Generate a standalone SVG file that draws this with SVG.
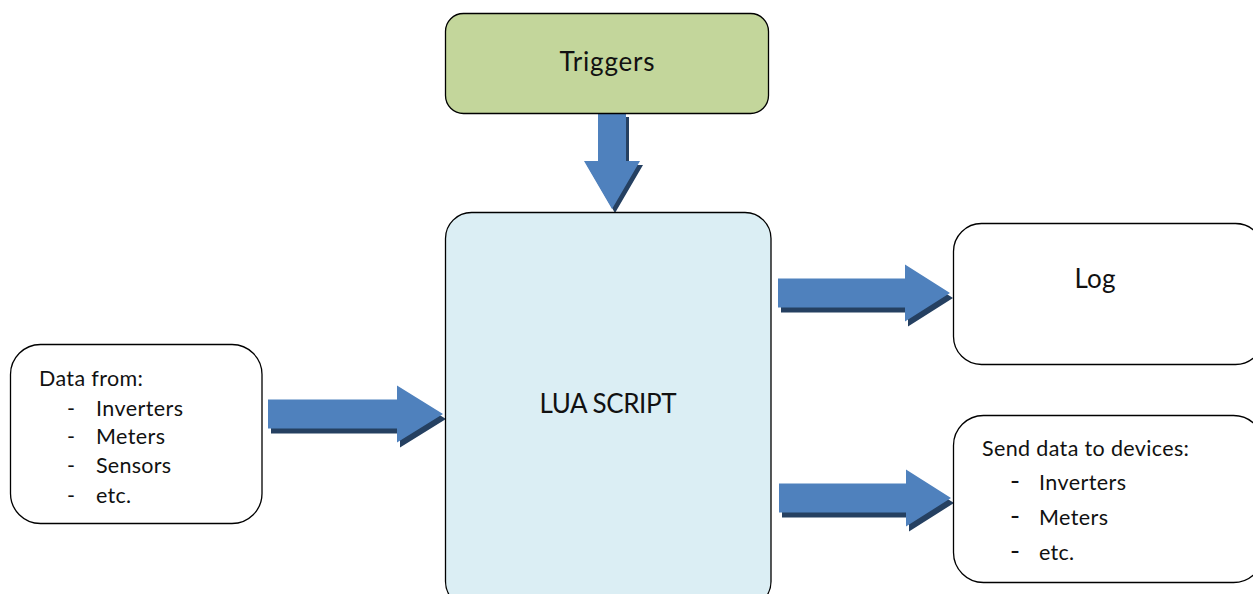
<svg xmlns="http://www.w3.org/2000/svg" width="1253" height="594" viewBox="0 0 1253 594">
<style>
.box{stroke:#000;stroke-width:1.3}
.arrow{fill:#4f81bd}
.shadow{fill:#254061}
text{font-family:"Lato","Open Sans","Liberation Sans",sans-serif;fill:#111}
.big{font-size:26px}
.small{font-size:21.500px}
.dash{font-size:27px}
</style>
<defs>
<polygon id="right" points="0,-14.500 127,-14.500 127,-28.500 172,0 127,28.500 127,14.500 0,14.500"/>
<polygon id="right-long" points="0,-14.500 129,-14.500 129,-28.500 175,0 129,28.500 129,14.500 0,14.500"/>
<polygon id="down" points="598,113 626,113 626,161 640,161 612,209 584,161 598,161"/>
</defs>
<rect width="1253" height="594" fill="#fff"/>
<g id="connectors">
<g id="arrow-triggers">
<use href="#down" class="shadow" transform="translate(3,4)"/>
<use href="#down" class="arrow"/>
</g>
<g id="arrow-data">
<use href="#right-long" class="shadow" transform="translate(271,419)"/>
<use href="#right-long" class="arrow" transform="translate(268,414)"/>
</g>
<g id="arrow-log">
<use href="#right" class="shadow" transform="translate(781,298)"/>
<use href="#right" class="arrow" transform="translate(778,293)"/>
</g>
<g id="arrow-send">
<use href="#right" class="shadow" transform="translate(782,503)"/>
<use href="#right" class="arrow" transform="translate(779,498)"/>
</g>
</g>
<g id="triggers">
<rect class="box" x="445.500" y="13.500" width="323" height="100" rx="18" fill="#c3d69b"/>
<text class="big" x="607" y="70.500" text-anchor="middle" textLength="95">Triggers</text>
</g>
<g id="lua">
<rect class="box" x="445.500" y="212.500" width="325.500" height="395" rx="26" fill="#dbeef4"/>
<text class="big" x="608" y="413" text-anchor="middle" textLength="137">LUA SCRIPT</text>
</g>
<g id="log">
<rect class="box" x="953.500" y="223.500" width="310" height="141" rx="28" fill="#fff"/>
<text class="big" x="1095" y="288" text-anchor="middle" textLength="41">Log</text>
</g>
<g id="data">
<rect class="box" x="10.500" y="344.500" width="251.500" height="179" rx="30" fill="#fff"/>
<text class="small" x="39" y="386" textLength="104">Data from:</text>
<text class="small" x="67" y="416">-</text><text class="small" x="96" y="416" textLength="87">Inverters</text>
<text class="small" x="67" y="444">-</text><text class="small" x="96" y="444" textLength="69">Meters</text>
<text class="small" x="67" y="473">-</text><text class="small" x="96" y="473" textLength="75">Sensors</text>
<text class="small" x="67" y="503">-</text><text class="small" x="96" y="503" textLength="35">etc.</text>
</g>
<g id="send">
<rect class="box" x="953.500" y="415.500" width="310" height="167" rx="30" fill="#fff"/>
<text class="small" x="982" y="456" textLength="207">Send data to devices:</text>
<text class="dash" x="1010" y="490">-</text><text class="small" x="1039" y="490" textLength="87">Inverters</text>
<text class="dash" x="1010" y="525">-</text><text class="small" x="1039" y="525" textLength="69">Meters</text>
<text class="dash" x="1010" y="560">-</text><text class="small" x="1039" y="560" textLength="35">etc.</text>
</g>
</svg>
